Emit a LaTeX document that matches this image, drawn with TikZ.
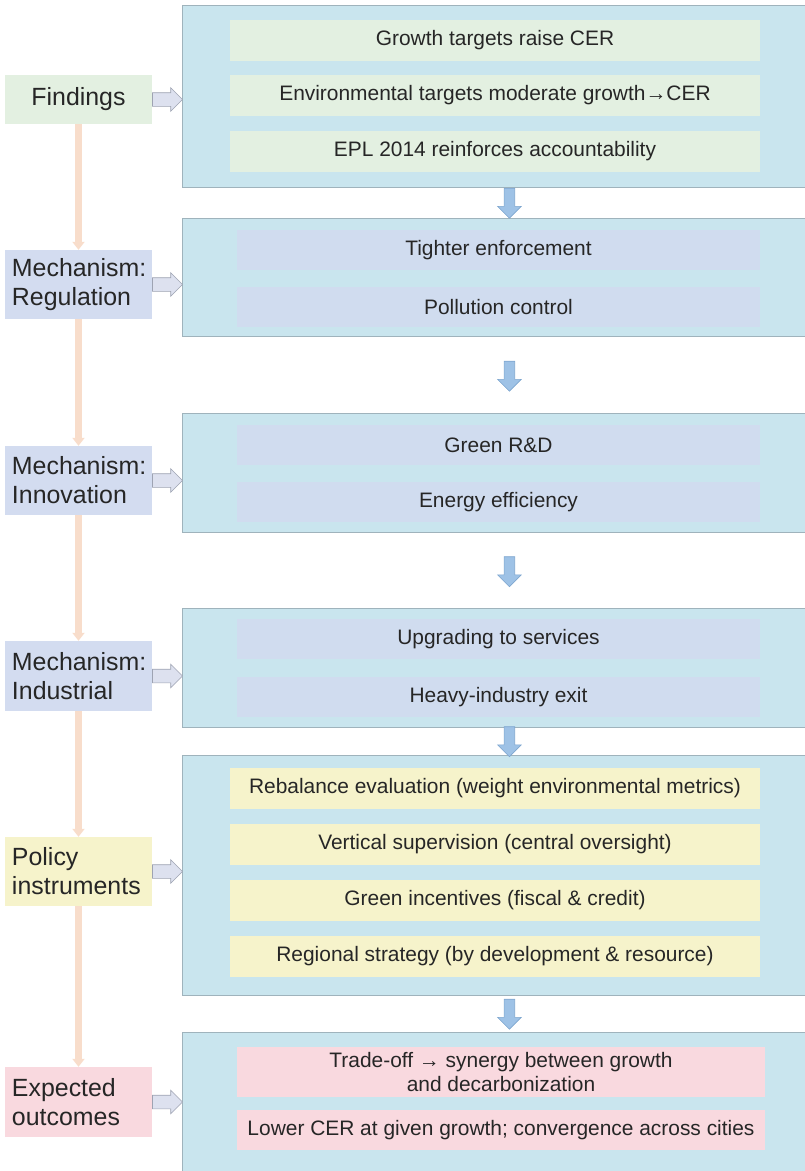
\documentclass[tikz,border=0pt]{standalone}
\usepackage{fontspec}
\setmainfont{Liberation Sans}
\usepackage{xcolor}
\usetikzlibrary{calc,shapes.arrows,arrows.meta}
\definecolor{panelfill}{HTML}{C9E5EE}
\definecolor{panelline}{HTML}{9FB3BC}
\definecolor{greenfill}{HTML}{E3F0E1}
\definecolor{lavfill}{HTML}{D3DCF0}
\definecolor{lavinner}{HTML}{D0DCEF}
\definecolor{yellowfill}{HTML}{F6F3CB}
\definecolor{pinkfill}{HTML}{F9D9DF}
\definecolor{peach}{HTML}{F8DDCB}
\definecolor{downfill}{HTML}{9EC2E6}
\definecolor{downline}{HTML}{7EA6CF}
\definecolor{sidefill}{HTML}{DDE1EF}
\definecolor{sideline}{HTML}{9EA3B2}
\definecolor{textdark}{HTML}{262626}
\tikzstyle{panel} = [
    draw=panelline,
    fill=panelfill,
    line width=0.8pt,
    rectangle,
    anchor=north west,
    minimum width=630bp,
    inner sep=0pt
    ]
\tikzstyle{lbl} = [
    rectangle,
    text=textdark,
    font=\fontsize{25}{29}\selectfont,
    text width=133bp,
    inner xsep=7bp,
    minimum width=147bp
    ]
\tikzstyle{item} = [
    rectangle,
    text=textdark,
    font=\fontsize{21}{24}\selectfont,
    align=center,
    inner sep=0pt
    ]
\tikzstyle{sidearrow} = [
    single arrow,
    draw=sideline,
    fill=sidefill,
    line width=0.6pt,
    anchor=tail,
    minimum height=30bp,
    inner xsep=0pt,
    inner ysep=6.5bp,
    single arrow head extend=5bp,
    single arrow head indent=0pt
    ]
\tikzstyle{downarrow} = [
    single arrow,
    shape border rotate=270,
    draw=downline,
    fill=downfill,
    line width=0.6pt,
    anchor=tail,
    minimum height=30bp,
    inner xsep=5bp,
    inner ysep=0pt,
    single arrow head extend=6.5bp,
    single arrow head indent=0pt
    ]
\tikzstyle{timeline} = [
    draw=peach,
    line width=7bp,
    -{Triangle[width=12bp,length=8bp]}
    ]
\begin{document}
\begin{tikzpicture}[x=1bp,y=-1bp]
\useasboundingbox (0,0) rectangle (805,1171);
\clip (0,0) rectangle (805,1171);

% panels
\node[panel, minimum height=182bp] (fndbox) at (182,5) {};
\node[panel, minimum height=118bp] (regbox) at (182,218) {};
\node[panel, minimum height=119bp] (innbox) at (182,413) {};
\node[panel, minimum height=119bp] (indbox) at (182,608) {};
\node[panel, minimum height=240bp] (polbox) at (182,755) {};
\node[panel, minimum height=150bp] (outbox) at (182,1032) {};

% findings
\node[item, fill=greenfill, minimum width=530bp, minimum height=41bp] (f1) at (495,40) {Growth targets raise CER};
\node[item, fill=greenfill, minimum width=530bp, minimum height=41bp] (f2) at (495,95.5) {Environmental targets moderate growth→CER};
\node[item, fill=greenfill, minimum width=530bp, minimum height=41bp] (f3) at (495,151) {EPL 2014 reinforces accountability};

% mechanisms
\node[item, fill=lavinner, minimum width=523bp, minimum height=40bp] (r1) at (498.5,250) {Tighter enforcement};
\node[item, fill=lavinner, minimum width=523bp, minimum height=40bp] (r2) at (498.5,307) {Pollution control};
\node[item, fill=lavinner, minimum width=523bp, minimum height=40bp] (i1) at (498.5,445) {Green R\&D};
\node[item, fill=lavinner, minimum width=523bp, minimum height=40bp] (i2) at (498.5,502) {Energy efficiency};
\node[item, fill=lavinner, minimum width=523bp, minimum height=40bp] (d1) at (498.5,639) {Upgrading to services};
\node[item, fill=lavinner, minimum width=523bp, minimum height=40bp] (d2) at (498.5,697) {Heavy-industry exit};

% policy
\node[item, fill=yellowfill, minimum width=530bp, minimum height=41bp] (p1) at (495,788.5) {Rebalance evaluation (weight environmental metrics)};
\node[item, fill=yellowfill, minimum width=530bp, minimum height=41bp] (p2) at (495,844.5) {Vertical supervision (central oversight)};
\node[item, fill=yellowfill, minimum width=530bp, minimum height=41bp] (p3) at (495,900.5) {Green incentives (fiscal \& credit)};
\node[item, fill=yellowfill, minimum width=530bp, minimum height=41bp] (p4) at (495,956.5) {Regional strategy (by development \& resource)};

% outcomes
\node[item, fill=pinkfill, minimum width=528bp, minimum height=50bp] (o1) at (501,1072) {Trade-off → synergy between growth\\and decarbonization};
\node[item, fill=pinkfill, minimum width=528bp, minimum height=40bp] (o2) at (501,1130) {Lower CER at given growth; convergence across cities};

% labels
\node[lbl, fill=greenfill, minimum height=49bp, align=center] (fnd) at (78.5,99.5) {Findings};
\node[lbl, fill=lavfill, minimum height=69bp, align=left] (reg) at (78.5,284.5) {Mechanism:\\Regulation};
\node[lbl, fill=lavfill, minimum height=69bp, align=left] (inn) at (78.5,480.5) {Mechanism:\\Innovation};
\node[lbl, fill=lavfill, minimum height=70bp, align=left] (ind) at (78.5,676) {Mechanism:\\Industrial};
\node[lbl, fill=yellowfill, minimum height=69bp, align=left] (pol) at (78.5,871.5) {Policy\\instruments};
\node[lbl, fill=pinkfill, minimum height=70bp, align=left] (out) at (78.5,1102) {Expected\\outcomes};

% left chain
\draw[timeline] (fnd) -- (reg);
\draw[timeline] (reg) -- (inn);
\draw[timeline] (inn) -- (ind);
\draw[timeline] (ind) -- (pol);
\draw[timeline] (pol) -- (out);

% label to panel
\node[sidearrow] at (fnd.east) {};
\node[sidearrow] at (reg.east) {};
\node[sidearrow] at (inn.east) {};
\node[sidearrow] at (ind.east) {};
\node[sidearrow] at (pol.east) {};
\node[sidearrow] at (out.east) {};

% panel to panel
\node[downarrow] at ($(fndbox.south)!.5!(regbox.north)+(12,-15)$) {};
\node[downarrow] at ($(regbox.south)!.5!(innbox.north)+(12,-14)$) {};
\node[downarrow] at ($(innbox.south)!.5!(indbox.north)+(12,-14)$) {};
\node[downarrow] at ($(indbox.south)!.5!(polbox.north)+(12,-15)$) {};
\node[downarrow] at ($(polbox.south)!.5!(outbox.north)+(12,-15)$) {};
\end{tikzpicture}
\end{document}
